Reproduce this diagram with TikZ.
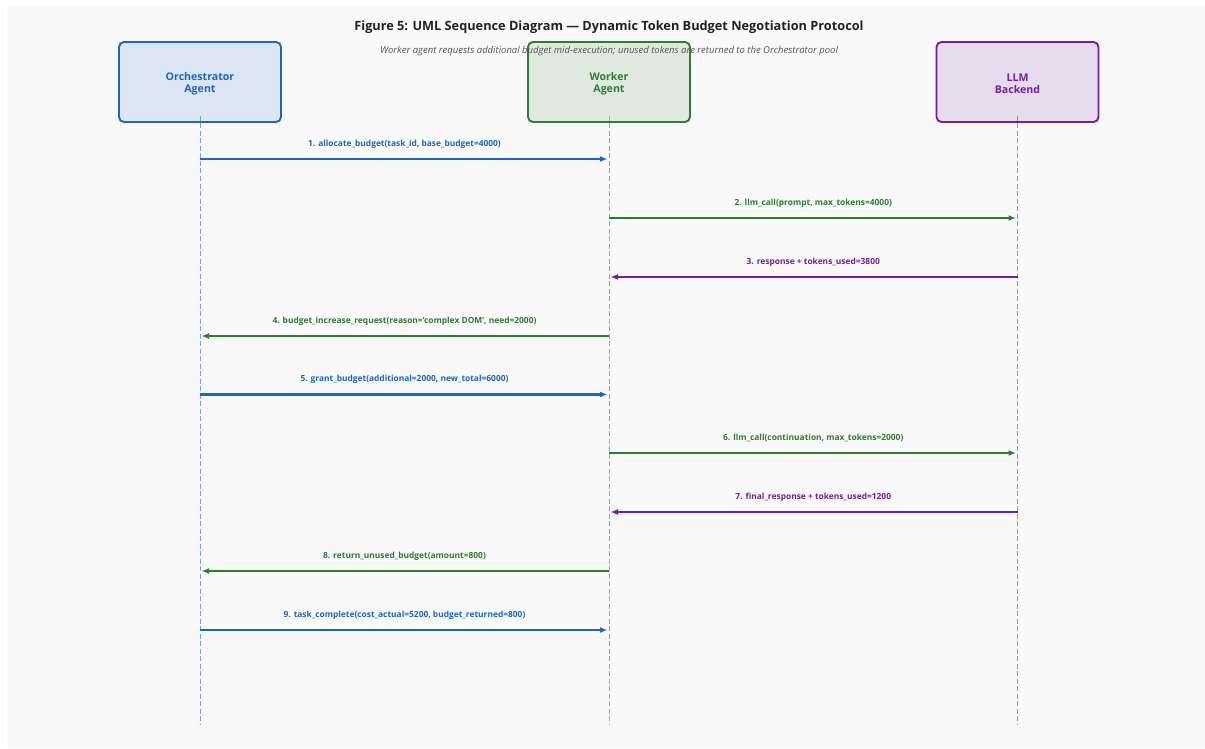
\documentclass[tikz,border=0pt]{standalone}
\usepackage{fontspec}
\setmainfont{Open Sans}
\usetikzlibrary{arrows.meta}
\definecolor{bgpanel}{HTML}{F9F9F9}
\definecolor{orchline}{HTML}{1E66C1}
\definecolor{orchfill}{HTML}{DCE5F2}
\definecolor{workline}{HTML}{2E7D32}
\definecolor{workfill}{HTML}{DFE9E0}
\definecolor{llmline}{HTML}{7220A0}
\definecolor{llmfill}{HTML}{E7DBEE}
\definecolor{titlecol}{HTML}{222222}
\definecolor{subcol}{HTML}{555555}
\tikzset{
  actor/.style={draw, line width=1.9pt, rounded corners=5pt, minimum width=162pt, minimum height=80pt,
    inner sep=0pt},
  actorlabel/.style={align=center, font=\fontsize{10.6}{12}\selectfont\bfseries},
  lifeline/.style={line width=0.8pt, dash pattern=on 5pt off 2.5pt},
  msg/.style={line width=2.1pt, -{Latex[length=7.5pt,width=6pt]}, shorten >=1.5pt},
  msglabel/.style={font=\fontsize{8.4}{10}\selectfont\bfseries, anchor=base},
}
\begin{document}
\begin{tikzpicture}[x=1pt,y=-1pt]
\useasboundingbox (0,0) rectangle (1205,749);
\fill[white] (0,0) rectangle (1205,749);
\fill[bgpanel] (7,5) rectangle (1205,748);

% actors
\node[actor, color=orchline, fill=orchfill] (orch) at (200,82) {};
\node[actor, color=workline, fill=workfill] (work) at (609,82) {};
\node[actor, color=llmline, fill=llmfill] (llm) at (1017.5,82) {};
\node[actorlabel, text=orchline] (orchlbl) at (200,84) {Orchestrator\\Agent};
\node[actorlabel, text=workline] (worklbl) at (609,84) {Worker\\Agent};
\node[actorlabel, text=llmline] (llmlbl) at (1017.5,84) {LLM\\Backend};

% lifelines
\coordinate (orchend) at (200,725);
\coordinate (workend) at (609,725);
\coordinate (llmend) at (1017.5,725);
\draw[lifeline, orchline!60] (orch.south |- 0,116) -- (orchend);
\draw[lifeline, workline!55] (work.south |- 0,116) -- (workend);
\draw[lifeline, llmline!55] (llm.south |- 0,116) -- (llmend);

% message anchor points on the lifelines
\foreach \i/\y in {1/159,2/218,3/277,4/336,5/394.5,6/453,7/512,8/571,9/630}{
  \coordinate (o\i) at (200,\y);
  \coordinate (w\i) at (609,\y);
  \coordinate (l\i) at (1017.5,\y);
}

% messages
\draw[msg, orchline] (o1) -- node[msglabel, above=6.5pt] {1. allocate\_budget(task\_id, base\_budget=4000)} (w1);
\draw[msg, workline] (w2) -- node[msglabel, above=6.5pt] {2. llm\_call(prompt, max\_tokens=4000)} (l2);
\draw[msg, llmline] (l3) -- node[msglabel, above=6.5pt] {3. response + tokens\_used=3800} (w3);
\draw[msg, workline] (w4) -- node[msglabel, above=6.5pt] {4. budget\_increase\_request(reason='complex DOM', need=2000)} (o4);
\draw[msg, orchline] (o5) -- node[msglabel, above=6.5pt] {5. grant\_budget(additional=2000, new\_total=6000)} (w5);
\draw[msg, workline] (w6) -- node[msglabel, above=6.5pt] {6. llm\_call(continuation, max\_tokens=2000)} (l6);
\draw[msg, llmline] (l7) -- node[msglabel, above=6.5pt] {7. final\_response + tokens\_used=1200} (w7);
\draw[msg, workline] (w8) -- node[msglabel, above=6.5pt] {8. return\_unused\_budget(amount=800)} (o8);
\draw[msg, orchline] (o9) -- node[msglabel, above=6.5pt] {9. task\_complete(cost\_actual=5200, budget\_returned=800)} (w9);

% title and subtitle
\node[font=\fontsize{12.75}{14}\selectfont\bfseries, text=titlecol] (title) at (609,27) {Figure 5: UML Sequence Diagram — Dynamic Token Budget Negotiation Protocol};
\node[font=\fontsize{9.5}{11}\selectfont\itshape, text=subcol] (subtitle) at (609,51) {Worker agent requests additional budget mid-execution; unused tokens are returned to the Orchestrator pool};
\end{tikzpicture}
\end{document}
